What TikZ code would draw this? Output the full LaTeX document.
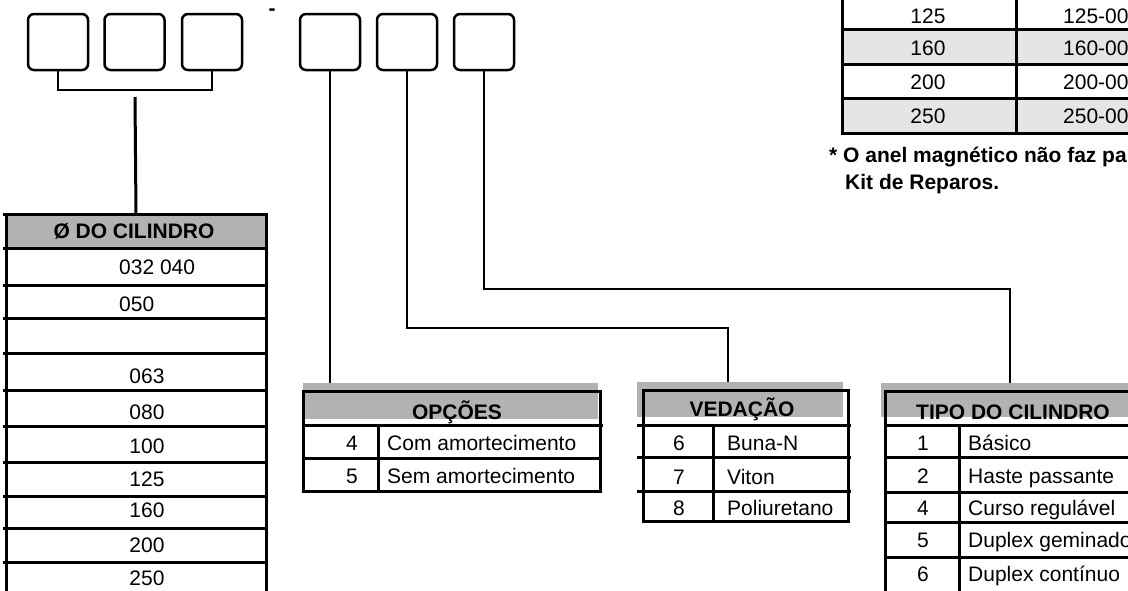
\documentclass[tikz,border=0pt]{standalone}
\usepackage{fontspec}
\setmainfont{Liberation Sans}
\begin{document}
\begin{tikzpicture}[x=1pt,y=-1pt]
\tikzset{
  digitbox/.style={draw, line width=2.5pt, rounded corners=6pt, minimum width=60pt, minimum height=56pt, inner sep=0pt},
  conn/.style={line width=2pt},
  tabline/.style={line width=3pt},
  txt/.style={font=\fontsize{21}{25}\selectfont, inner sep=0pt, text height=15pt, text depth=0pt},
  txtl/.style={txt, anchor=west},
  hdr/.style={font=\bfseries\fontsize{21}{25}\selectfont, inner sep=0pt, text height=15pt, text depth=0pt},
  shadebox/.style={fill=black!30, draw=none, inner sep=0pt},
  note/.style={font=\bfseries\fontsize{21}{25}\selectfont, inner sep=0pt, text height=15pt, text depth=0pt, anchor=west}
}
\useasboundingbox (0,0) rectangle (1128,590);
\clip (0,0) rectangle (1128,590);

% code boxes
\node[digitbox] (b1) at (58,42) {};
\node[digitbox] (b2) at (134.5,42) {};
\node[digitbox] (b3) at (212,42) {};
\node[hdr, anchor=base] (dash) at (272,15) {-};
\node[digitbox] (b4) at (330,42) {};
\node[digitbox] (b5) at (407,42) {};
\node[digitbox] (b6) at (484,42) {};

% ---------- left table: diameter ----------
\node[shadebox, minimum width=260pt, minimum height=34pt] (cilhead) at (136,231) {};
\node[hdr] (cilheadtxt) at (134,231) {Ø DO CILINDRO};
\foreach \yy in {214,248,285,318,353,390,426,462,496,528,562}
  \draw[tabline] (3,\yy) -- (268,\yy);
\draw[tabline] (6,214) -- (6,592);
\draw[tabline] (266,214) -- (266,592);
\node[txtl] (d1) at (119,267) {032 040};
\node[txtl] (d2) at (119,304) {050};
\node[txt] (d3) at (147,376) {063};
\node[txt] (d4) at (147,412) {080};
\node[txt] (d5) at (147,446) {100};
\node[txt] (d6) at (147,479) {125};
\node[txt] (d7) at (147,510) {160};
\node[txt] (d8) at (147,545) {200};
\node[txt] (d9) at (147,578) {250};

% ---------- OPCOES ----------
\node[shadebox, minimum width=295pt, minimum height=36pt] (opshade) at (450.5,401) {};
\draw[tabline] (303,391) rectangle (600,491);
\draw[tabline] (303,425) -- (603,425);
\draw[tabline] (303,458) -- (600,458);
\draw[tabline] (378,425) -- (378,491);
\node[hdr] (ophead) at (457,412) {OPÇÕES};
\node[txt] (op4) at (352,443) {4};
\node[txtl] (op4t) at (387,443) {Com amortecimento};
\node[txt] (op5) at (352,476) {5};
\node[txtl] (op5t) at (387,476) {Sem amortecimento};

% ---------- VEDACAO ----------
\node[shadebox, minimum width=206pt, minimum height=35pt] (vedshade) at (740,399.5) {};
\draw[tabline] (643,390) rectangle (848,521);
\foreach \yy in {425,457,491}
  \draw[tabline] (637,\yy) -- (851,\yy);
\draw[tabline] (713,425) -- (713,521);
\node[hdr] (vedhead) at (742,409) {VEDAÇÃO};
\node[txt] (v6) at (679,443) {6};
\node[txtl] (v6t) at (727,443) {Buna-N};
\node[txt] (v7) at (679,477) {7};
\node[txtl] (v7t) at (727,477) {Viton};
\node[txt] (v8) at (679,508) {8};
\node[txtl] (v8t) at (727,508) {Poliuretano};

% ---------- TIPO DO CILINDRO ----------
\node[shadebox, minimum width=249pt, minimum height=34pt] (tiposhade) at (1005.5,400) {};
\draw[tabline] (1132,391) -- (885,391) -- (885,594);
\foreach \yy in {425,457,492,522,557}
  \draw[tabline] (885,\yy) -- (1132,\yy);
\draw[tabline] (959,425) -- (959,594);
\node[hdr] (tipohead) at (1013,412) {TIPO DO CILINDRO};
\node[txt] (t1) at (923,443) {1};
\node[txtl] (t1t) at (968,443) {Básico};
\node[txt] (t2) at (923,476) {2};
\node[txtl] (t2t) at (968,476) {Haste passante};
\node[txt] (t4) at (923,508) {4};
\node[txtl] (t4t) at (968,508) {Curso regulável};
\node[txt] (t5) at (923,540) {5};
\node[txtl] (t5t) at (968,540) {Duplex geminado};
\node[txt] (t6) at (923,574) {6};
\node[txtl] (t6t) at (968,574) {Duplex contínuo};

% ---------- top-right kit table ----------
\fill[black!10] (842,29) rectangle (1132,64);
\fill[black!10] (842,98) rectangle (1132,133);
\foreach \yy in {29,64,98,133}
  \draw[tabline] (840.5,\yy) -- (1132,\yy);
\draw[tabline] (842,-3) -- (842,134.5);
\draw[tabline] (1016,-3) -- (1016,134.5);
\node[txt] (k1) at (928,16) {125};
\node[txtl] (k1t) at (1063,16) {125-00};
\node[txt] (k2) at (928,48) {160};
\node[txtl] (k2t) at (1063,48) {160-00};
\node[txt] (k3) at (928,82) {200};
\node[txtl] (k3t) at (1063,82) {200-00};
\node[txt] (k4) at (928,116) {250};
\node[txtl] (k4t) at (1063,116) {250-00};
\node[note] (note1) at (829,155) {* O anel magnético não faz pa};
\node[note] (note2) at (845,182) {Kit de Reparos.};

% ---------- connectors ----------
\coordinate (brk) at (135,97);
\coordinate (h5) at (0,328);
\coordinate (h6) at (0,289);
\coordinate (x5) at (728,0);
\coordinate (x6) at (1010,0);
\draw[conn] (b1.south) -- ++(0,19) -| (b3.south);
\draw[line width=3pt] (brk) -- (cilhead.north);
\draw[conn] (b4.south) -- (b4.south |- opshade.north);
\draw[conn] (b5.south) -- (b5.south |- h5) -| (x5 |- vedshade.north);
\draw[conn] (b6.south) -- (b6.south |- h6) -| (x6 |- tiposhade.north);
\end{tikzpicture}
\end{document}
